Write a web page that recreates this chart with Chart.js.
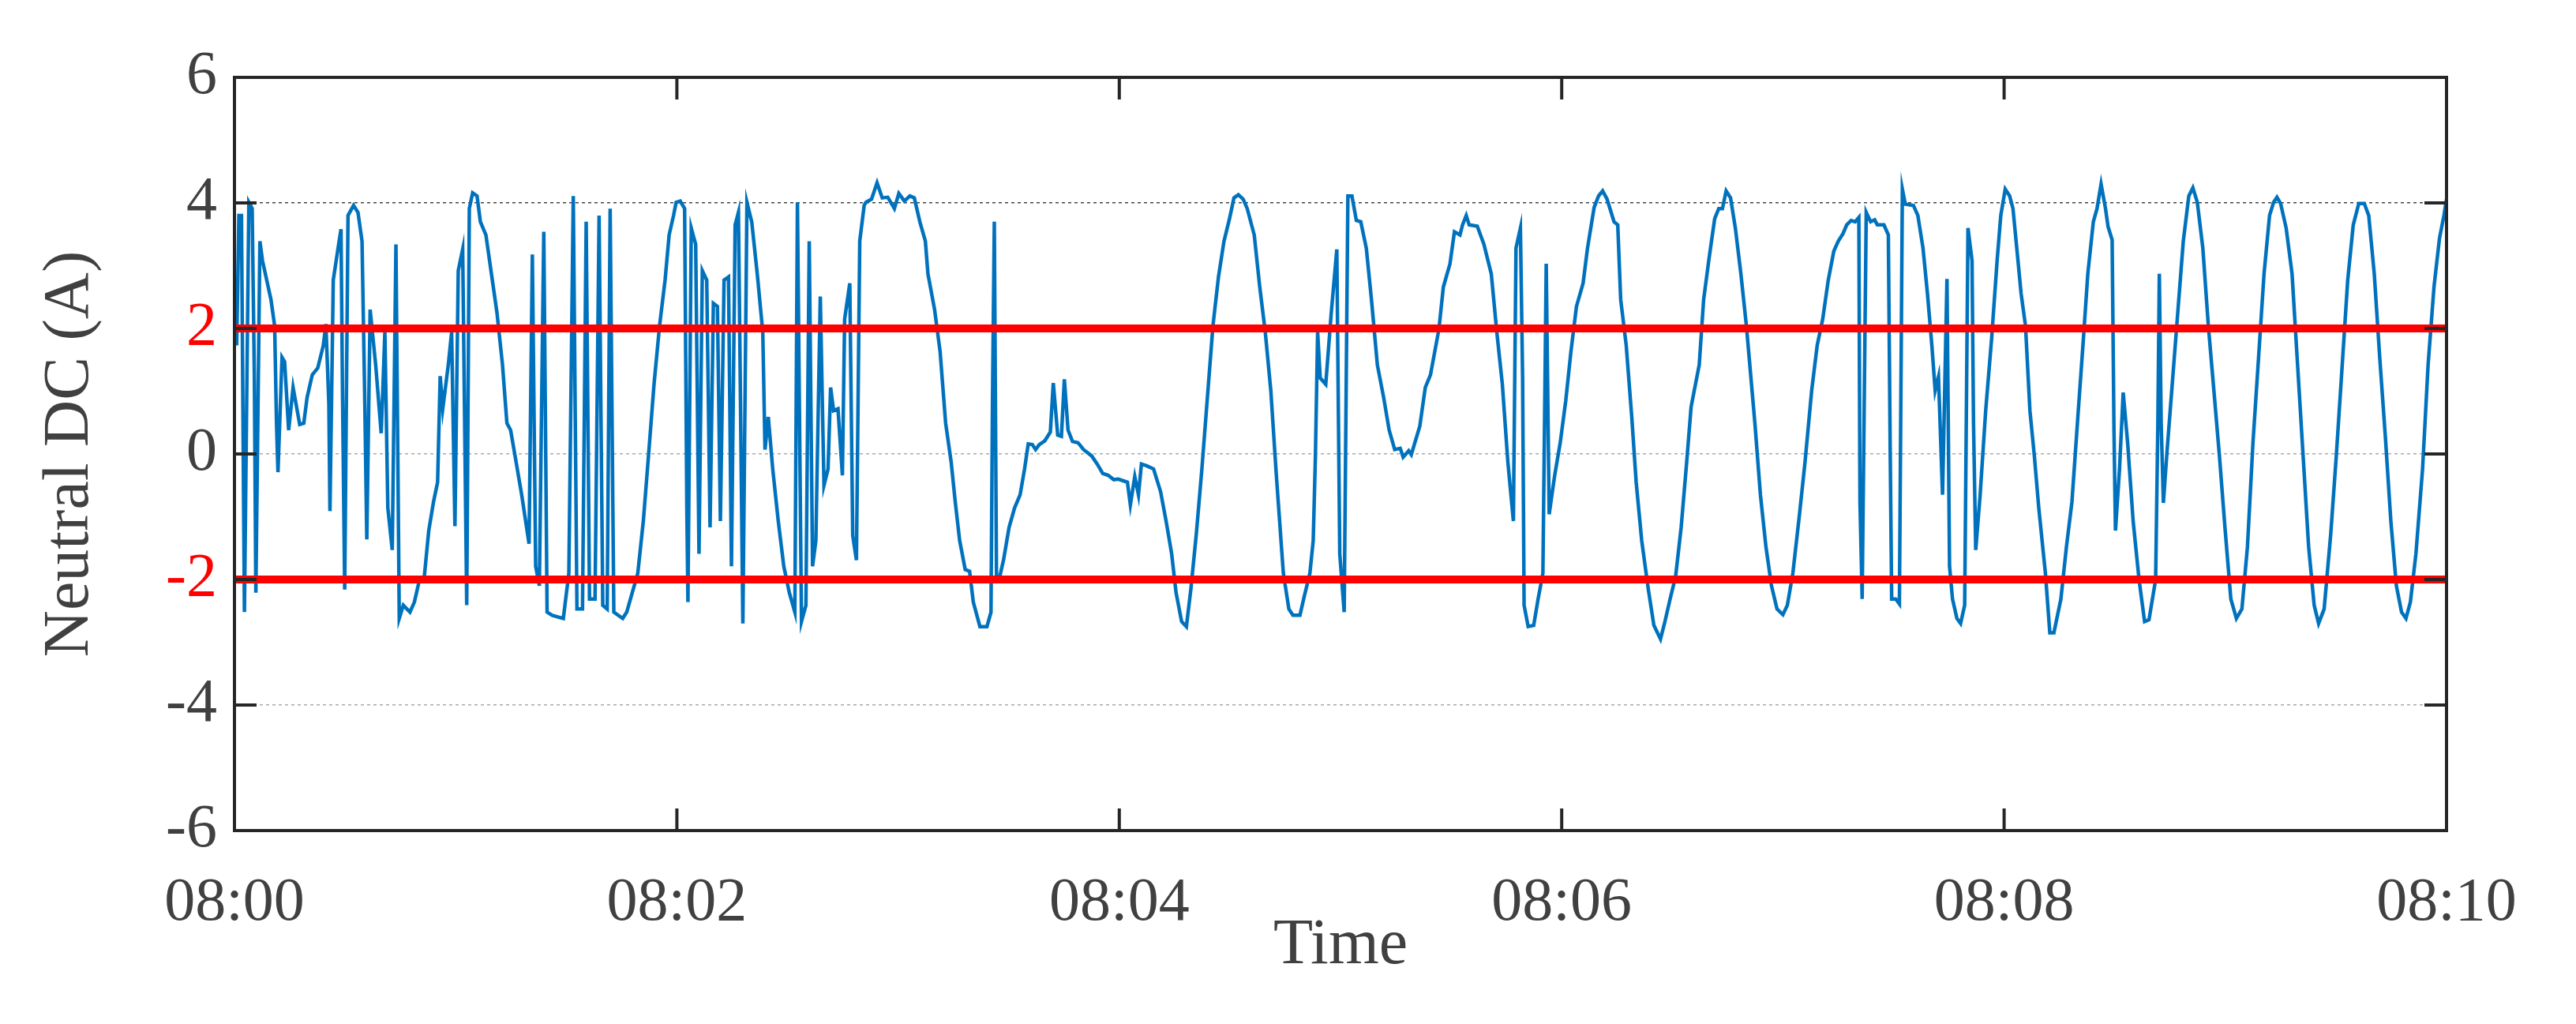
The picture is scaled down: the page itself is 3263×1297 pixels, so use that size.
<!DOCTYPE html>
<html><head><meta charset="utf-8">
<script src="https://cdn.jsdelivr.net/npm/chart.js@4.4.0/dist/chart.umd.min.js"></script>
<style>html,body{margin:0;padding:0;background:#fff}#w{width:3263px;height:1297px}</style>
</head><body><div id="w"><canvas id="c"></canvas></div>
<script>
// time in seconds after 08:00
const timeSec = [0.6,1.2,1.9,2.7,3.9,4.8,5.4,5.8,6.9,7.6,9.9,10.9,11.4,11.8,12.9,13.6,14.7,15.9,17.7,18.8,19.7,21.1,22.6,24.1,24.8,25.6,25.9,26.8,28.1,28.9,29.3,29.9,30.8,32.3,33.5,34.6,35.3,35.9,36.8,38.3,39.8,40.8,41.6,42.8,43.8,44.7,45.8,47.6,48.8,50.0,51.5,52.7,54.0,55.1,55.8,56.5,58.0,58.9,59.8,60.7,61.9,63.0,63.7,64.6,65.8,66.7,68.2,69.7,71.2,72.7,73.9,74.9,76.4,77.9,79.9,80.8,81.7,82.7,83.9,84.8,86.2,89.2,90.7,91.9,92.9,94.4,95.4,96.3,97.8,98.9,99.9,101.1,101.9,102.9,105.3,106.4,107.9,109.4,110.9,112.3,113.8,115.3,116.8,117.9,119.1,119.8,120.9,122.1,122.7,123.0,123.9,125.1,126.0,126.9,128.1,129.0,129.9,131.0,131.8,132.8,134.0,134.8,135.8,136.7,137.9,139.0,140.3,141.8,143.3,143.9,144.8,146.0,147.5,149.0,150.5,152.0,152.7,153.8,155.0,155.9,156.8,157.7,158.9,159.9,161.0,161.7,162.5,163.7,164.9,165.5,166.9,167.7,168.7,169.6,170.8,
171.3,172.8,174.3,175.7,177.2,179.0,180.2,181.7,183.2,184.4,185.9,187.4,188.1,189.9,191.4,192.9,194.4,195.5,196.7,198.2,199.4,200.4,202.2,204.1,205.2,205.6,206.1,206.7,207.4,208.6,210.1,211.6,213.1,214.3,215.3,216.4,217.3,218.3,219.8,221.3,222.1,223.3,224.3,225.1,226.1,227.3,228.8,230.3,232.5,234.0,235.5,237.0,238.5,239.7,242.2,243.0,244.2,245.2,246.0,247.5,249.3,251.2,252.7,254.2,255.4,256.9,258.2,259.4,260.9,262.4,263.9,265.4,266.9,268.4,269.9,271.1,272.3,273.6,274.7,276.6,278.1,279.6,281.1,282.6,284.5,286.0,287.1,289.0,290.2,291.7,292.6,293.2,293.8,294.5,296.0,297.5,299.0,299.8,301.0,302.0,303.1,304.3,305.5,307.0,308.4,310.0,311.7,313.2,314.7,316.2,317.0,318.5,319.2,321.5,323.0,324.4,326.7,327.9,329.7,330.9,332.4,333.1,334.1,334.9,337.1,338.9,340.9,342.4,343.9,345.4,346.9,347.6,348.8,349.4,349.8,350.9,352.4,353.6,354.9,355.4,355.8,356.6,358.1,359.6,361.1,362.5,364.0,365.8,367.0,368.8,370.0,371.1,372.3,374.2,375.2,376.0,377.5,379.0,380.2,381.7,383.5,385.0,386.8,388.0,389.4,390.9,392.4,393.9,395.1,
397.3,398.5,400.0,401.5,402.6,403.6,404.6,405.8,407.1,408.6,410.1,412.4,413.9,415.4,416.9,418.4,420.0,421.2,422.7,424.5,426.0,427.8,429.3,430.8,432.3,433.8,435.0,436.3,437.3,438.5,439.6,440.6,440.9,441.5,442.0,442.6,443.8,444.9,445.6,447.4,448.6,449.1,449.5,450.6,451.6,452.4,453.2,455.4,456.6,458.0,459.2,460.4,461.3,462.2,463.3,464.5,465.2,466.0,467.2,468.2,469.3,470.2,471.3,471.7,472.3,473.5,475.0,476.6,478.1,479.1,480.3,481.5,482.4,483.6,484.6,485.8,487.0,488.2,489.4,491.2,492.4,493.5,495.4,496.9,498.4,500.0,501.5,502.7,504.2,505.2,506.3,507.5,508.2,509.3,509.8,510.2,511.3,512.3,513.5,515.0,516.6,518.1,519.3,521.1,521.7,522.1,522.6,523.2,524.1,525.6,527.1,528.6,530.1,531.2,532.4,533.9,535.4,536.9,538.4,539.9,541.5,543.0,544.5,546.0,547.5,549.0,550.5,552.0,553.1,554.0,555.0,556.5,558.1,559.6,561.1,562.6,564.1,565.3,566.8,568.6,570.1,571.6,573.2,574.7,576.2,577.7,578.9,580.4,581.9,583.4,584.9,586.4,587.8,589.0,590.2,591.7,593.5,595.0,596.6,598.1,599.3,600.0];
const neutralDC = [1.73,3.80,3.80,-2.52,4.01,3.91,1.21,-2.21,3.39,3.08,2.46,2.04,0.49,-0.29,1.54,1.47,0.38,1.06,0.47,0.49,0.90,1.26,1.37,1.73,2.07,0.80,-0.91,2.77,3.28,3.58,1.01,-2.16,3.80,3.96,3.85,3.39,1.01,-1.36,2.30,1.42,0.33,1.94,-0.86,-1.53,3.34,-2.62,-2.41,-2.52,-2.36,-2.05,-1.95,-1.22,-0.76,-0.45,1.24,0.72,1.42,1.94,-1.15,2.92,3.26,-2.41,3.91,4.16,4.11,3.70,3.49,2.87,2.25,1.42,0.49,0.38,-0.13,-0.65,-1.43,3.18,-1.79,-2.10,3.54,-2.52,-2.57,-2.62,-1.90,4.11,-2.47,-2.47,3.70,-2.31,-2.31,3.80,-2.41,-2.47,3.91,-2.52,-2.62,-2.52,-2.21,-1.90,-1.07,-0.03,1.11,2.04,2.77,3.49,3.80,4.01,4.03,3.91,-0.86,-2.36,3.60,3.34,-1.59,2.92,2.77,-1.17,2.40,2.35,-1.07,2.77,2.82,-1.79,3.65,3.85,-2.70,4.01,3.70,2.87,1.94,0.07,0.59,-0.24,-1.07,-1.79,-2.21,-2.52,4.01,-2.67,-2.41,3.39,-1.79,-1.38,2.51,-0.50,-0.24,1.06,0.69,0.72,-0.34,2.15,2.72,-1.30,-1.69,3.39,3.96,
4.01,4.06,4.32,4.08,4.09,3.91,4.15,4.03,4.11,4.08,3.70,3.39,2.87,2.30,1.63,0.49,-0.13,-0.76,-1.38,-1.84,-1.87,-2.36,-2.75,-2.75,-2.52,0.80,3.70,-2.00,-2.00,-1.69,-1.17,-0.86,-0.65,-0.24,0.16,0.15,0.07,0.15,0.21,0.35,1.13,0.30,0.28,1.19,0.38,0.20,0.18,0.07,-0.03,-0.16,-0.31,-0.34,-0.41,-0.40,-0.45,-0.81,-0.36,-0.65,-0.16,-0.19,-0.24,-0.60,-1.07,-1.59,-2.21,-2.67,-2.75,-2.16,-1.27,-0.24,0.90,2.04,2.82,3.39,3.75,4.08,4.13,4.06,3.91,3.49,2.66,1.94,1.01,-0.34,-1.90,-2.47,-2.57,-2.57,-2.26,-1.90,-1.38,-0.03,1.94,1.21,1.11,2.25,3.26,-1.59,-2.52,4.11,4.11,3.72,3.70,3.28,2.46,1.42,0.90,0.38,0.07,0.09,-0.05,0.05,-0.01,0.44,1.06,1.26,1.99,2.66,3.03,3.54,3.49,3.65,3.80,3.65,3.63,3.34,2.87,1.94,1.11,-0.13,-1.07,3.28,3.60,1.21,-2.41,-2.75,-2.73,-2.31,-1.90,0.80,3.03,-0.96,-0.34,0.18,0.85,1.63,2.35,2.72,3.28,3.93,4.11,4.19,4.06,3.70,3.65,2.46,1.73,0.59,-0.45,-1.38,-2.16,-2.73,-2.95,-2.67,-2.31,-1.95,-1.17,-0.13,0.75,
1.42,2.46,3.13,3.75,3.91,3.91,4.19,4.08,3.60,2.87,2.04,0.49,-0.65,-1.48,-2.10,-2.47,-2.56,-2.41,-1.90,-0.96,-0.13,1.01,1.73,2.15,2.77,3.23,3.39,3.51,3.65,3.72,3.70,3.77,-0.76,-2.31,0.49,3.85,3.70,3.73,3.65,3.65,3.49,0.07,-2.31,-2.31,-2.39,4.22,3.98,3.96,3.80,3.28,2.56,1.73,1.01,1.23,-0.65,2.79,-1.79,-2.31,-2.62,-2.70,-2.41,3.60,3.08,0.49,-1.53,-0.65,0.69,1.83,3.08,3.80,4.22,4.11,3.91,3.18,2.56,2.04,0.69,-0.03,-0.86,-1.90,-2.85,-2.85,-2.31,-1.48,-0.76,0.59,1.83,2.87,3.70,3.91,4.30,3.91,3.62,3.41,0.38,-1.22,-0.24,0.98,0.18,-1.07,-2.00,-2.67,-2.64,-2.00,0.49,2.87,0.49,-0.78,-0.03,1.11,2.25,3.39,4.11,4.24,4.01,3.28,2.04,1.01,-0.03,-1.17,-2.31,-2.62,-2.47,-1.48,0.18,1.52,2.87,3.80,4.01,4.09,3.99,3.60,2.87,1.42,-0.03,-1.48,-2.41,-2.70,-2.47,-1.27,-0.03,1.32,2.77,3.65,3.99,3.99,3.80,2.87,1.52,0.28,-1.07,-2.10,-2.52,-2.62,-2.36,-1.59,-0.24,1.42,2.66,3.44,3.80,4.06];
const limitUpper = 2, limitLower = -2;
const timeRange = [0, 600];
const xTickLabels = ['08:00','08:02','08:04','08:06','08:08','08:10'];
const yTicks = [-6,-4,-2,0,2,4,6];

const FONT = '"Liberation Serif", "DejaVu Serif", serif';
const TXT = '#404040';

const frame = {
  id:'frame',
  afterDraw(ch){
    const {ctx, chartArea:a, scales:{x,y}} = ch;
    ctx.save();
    ctx.strokeStyle = '#262626'; ctx.lineWidth = 4;
    ctx.strokeRect(a.left, a.top, a.right-a.left, a.bottom-a.top);
    ctx.beginPath();
    yTicks.forEach(v=>{const p=y.getPixelForValue(v);
      ctx.moveTo(a.left,p); ctx.lineTo(a.left+28,p);
      ctx.moveTo(a.right,p); ctx.lineTo(a.right-28,p);});
    for(let s=0;s<=600;s+=120){const p=x.getPixelForValue(s);
      ctx.moveTo(p,a.bottom); ctx.lineTo(p,a.bottom-28);
      ctx.moveTo(p,a.top); ctx.lineTo(p,a.top+28);}
    ctx.stroke(); ctx.restore();
  }
};

new Chart(document.getElementById('c'), {
  type:'line',
  data:{datasets:[
    {data: timeRange.map(t=>({x:t,y:limitUpper})), borderColor:'#ff0000', borderWidth:10, pointRadius:0},
    {data: timeRange.map(t=>({x:t,y:limitLower})), borderColor:'#ff0000', borderWidth:10, pointRadius:0},
    {data: timeSec.map((t,i)=>({x:t,y:neutralDC[i]})), borderColor:'#0072BD', borderWidth:4.5, pointRadius:0, tension:0}
  ]},
  plugins:[frame],
  options:{
    responsive:true, maintainAspectRatio:false, animation:false,
    layout:{padding:{top:98,right:164,left:40,bottom:0}},
    plugins:{legend:{display:false}, tooltip:{enabled:false}},
    scales:{
      x:{type:'linear', min:0, max:600,
        afterFit(s){s.height=245;},
        grid:{display:false, drawTicks:false}, border:{display:false},
        ticks:{stepSize:120, padding:46, color:TXT, font:{family:FONT,size:78},
          callback:(v)=>xTickLabels[Math.round(v/120)], maxRotation:0},
        title:{display:true, text:'Time', color:TXT, font:{family:FONT,size:82}, padding:{top:0,bottom:49}}
      },
      y:{min:-6, max:6,
        afterFit(s){s.width=257;},
        afterBuildTicks(s){s.ticks = yTicks.map(v=>({value:v}));},
        grid:{drawTicks:false, lineWidth:1.5,
          color:(c)=>{const v=c.tick&&c.tick.value; if(v===4) return '#444'; if(v===0||v===-4) return '#aaa'; return 'rgba(0,0,0,0)';}},
        border:{display:false, dash:[4,4]},
        ticks:{padding:22, font:{family:FONT,size:78},
          color:(c)=>Math.abs(c.tick.value)===2?'#ff0000':TXT},
        title:{display:true, text:'Neutral DC (A)', color:TXT, font:{family:FONT,size:82}, padding:{top:0,bottom:0}}
      }
    }
  }
});
</script></body></html>
